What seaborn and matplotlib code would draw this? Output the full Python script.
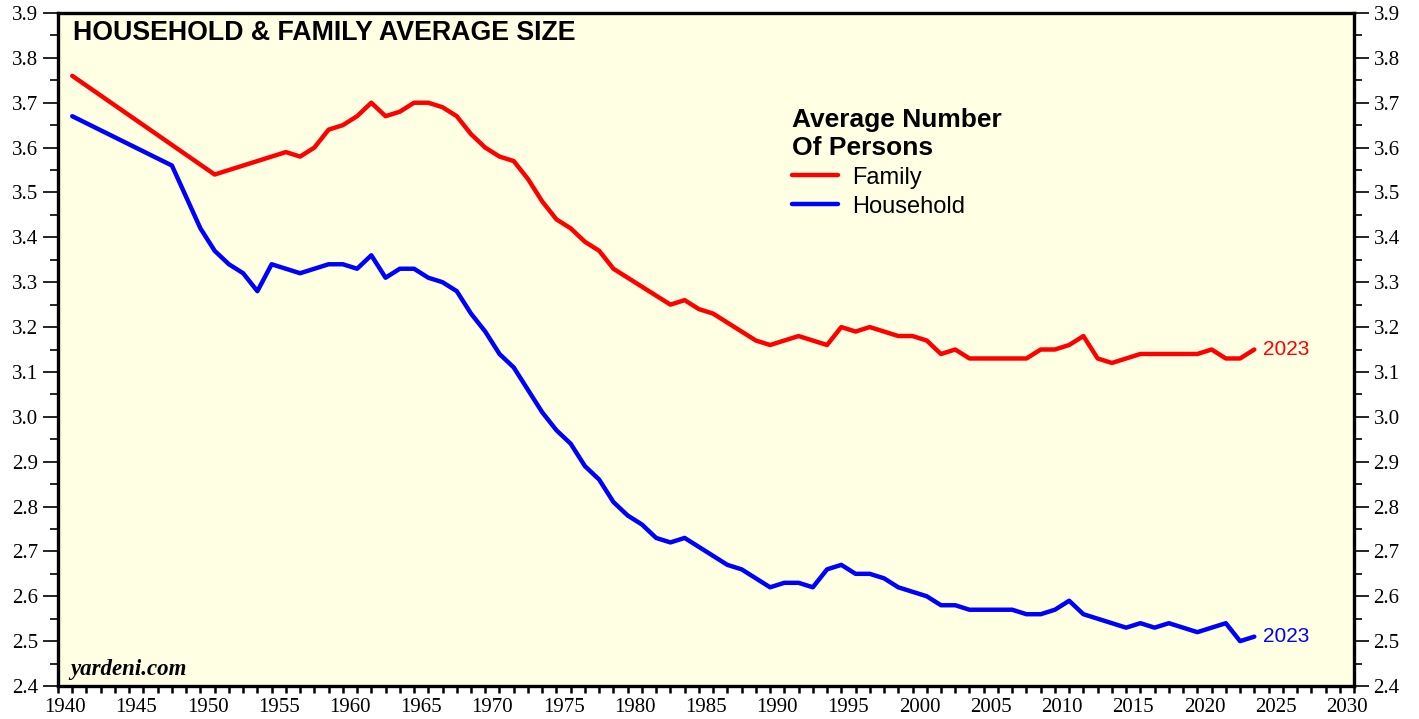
import matplotlib
matplotlib.use("Agg")
import matplotlib.pyplot as plt
import seaborn as sns
import pandas as pd

# average family size (persons); no annual points 1941-49 and 1951-54
family_years = [1940, 1950] + list(range(1955, 2024))
family_size = [3.76, 3.54,
               3.59, 3.58, 3.60, 3.64, 3.65,                      # 1955-59
               3.67, 3.70, 3.67, 3.68, 3.70, 3.70, 3.69, 3.67, 3.63, 3.60,  # 1960s
               3.58, 3.57, 3.53, 3.48, 3.44, 3.42, 3.39, 3.37, 3.33, 3.31,  # 1970s
               3.29, 3.27, 3.25, 3.26, 3.24, 3.23, 3.21, 3.19, 3.17, 3.16,  # 1980s
               3.17, 3.18, 3.17, 3.16, 3.20, 3.19, 3.20, 3.19, 3.18, 3.18,  # 1990s
               3.17, 3.14, 3.15, 3.13, 3.13, 3.13, 3.13, 3.13, 3.15, 3.15,  # 2000s
               3.16, 3.18, 3.13, 3.12, 3.13, 3.14, 3.14, 3.14, 3.14, 3.14,  # 2010s
               3.15, 3.13, 3.13, 3.15]                                      # 2020-23

# average household size (persons)
household_years = [1940] + list(range(1947, 2024))
household_size = [3.67,
                  3.56, 3.49, 3.42,                                          # 1947-49
                  3.37, 3.34, 3.32, 3.28, 3.34, 3.33, 3.32, 3.33, 3.34, 3.34,  # 1950s
                  3.33, 3.36, 3.31, 3.33, 3.33, 3.31, 3.30, 3.28, 3.23, 3.19,  # 1960s
                  3.14, 3.11, 3.06, 3.01, 2.97, 2.94, 2.89, 2.86, 2.81, 2.78,  # 1970s
                  2.76, 2.73, 2.72, 2.73, 2.71, 2.69, 2.67, 2.66, 2.64, 2.62,  # 1980s
                  2.63, 2.63, 2.62, 2.66, 2.67, 2.65, 2.65, 2.64, 2.62, 2.61,  # 1990s
                  2.60, 2.58, 2.58, 2.57, 2.57, 2.57, 2.57, 2.56, 2.56, 2.57,  # 2000s
                  2.59, 2.56, 2.55, 2.54, 2.53, 2.54, 2.53, 2.54, 2.53, 2.52,  # 2010s
                  2.53, 2.54, 2.50, 2.51]                                      # 2020-23

tick_years = list(range(1940, 2031, 5))
y_ticks = [round(2.4 + 0.1 * i, 1) for i in range(16)]

fam = pd.DataFrame({"year": family_years, "size": family_size})
hh = pd.DataFrame({"year": household_years, "size": household_size})

sns.set_style("ticks")
plt.rcParams["font.family"] = ["Liberation Sans", "DejaVu Sans"]
plt.rcParams["text.color"] = "black"
plt.rcParams["xtick.color"] = "black"
plt.rcParams["ytick.color"] = "black"

fig = plt.figure(figsize=(14.19, 7.19), dpi=100)
ax = fig.add_axes([58 / 1419, 1 - 686 / 719, 1296 / 1419, 673 / 719])
ax.set_facecolor("#FFFFE3")

sns.lineplot(data=fam, x="year", y="size", color="#FF0000", lw=3.2, label="Family", ax=ax)
sns.lineplot(data=hh, x="year", y="size", color="#0000FF", lw=3.2, label="Household", ax=ax)

ax.set_xlim(1939, 2030)
ax.set_ylim(2.4, 3.9)

# year labels sit in the middle of each year slot, ticks on year boundaries
ax.set_xticks([y - 0.5 for y in tick_years])
ax.set_xticklabels([str(y) for y in tick_years])
ax.set_xticks(range(1939, 2031), minor=True)
ax.tick_params(axis="x", which="major", length=0, pad=9)
ax.tick_params(axis="x", which="minor", length=5, width=1.8, direction="out")

ax.set_yticks(y_ticks)
ax.set_yticklabels([f"{v:.1f}" for v in y_ticks])
ax.set_yticks([2.45 + 0.1 * i for i in range(15)], minor=True)
ax.yaxis.set_ticks_position("both")
ax.tick_params(axis="y", which="major", length=11, width=1.2, pad=3,
               left=True, right=True, labelleft=True, labelright=True)
ax.tick_params(axis="y", which="minor", length=5.5, width=1.2, left=True, right=True)

for t in ax.xaxis.get_major_ticks():
    t.label1.set_fontfamily("Liberation Serif")
    t.label1.set_fontsize(15)
for t in ax.yaxis.get_major_ticks():
    for lab in (t.label1, t.label2):
        lab.set_fontfamily("Liberation Serif")
        lab.set_fontsize(15)

for side in ["left", "right", "top", "bottom"]:
    ax.spines[side].set_linewidth(2.4)
    ax.spines[side].set_color("black")

ax.set_xlabel("")
ax.set_ylabel("")

ax.text(0.0116, 0.970, "HOUSEHOLD & FAMILY AVERAGE SIZE", transform=ax.transAxes,
        fontsize=19.3, fontweight="bold", ha="left", va="center")
ax.text(0.0093, 0.025, "yardeni.com", transform=ax.transAxes, fontsize=16.5,
        fontweight="bold", fontstyle="italic", fontfamily="Liberation Serif",
        ha="left", va="center")

ax.annotate("2023", (family_years[-1], family_size[-1]), xytext=(6, 0),
            textcoords="offset points", color="#FF0000", fontsize=15, va="center")
ax.annotate("2023", (household_years[-1], household_size[-1]), xytext=(6, 0),
            textcoords="offset points", color="#0000FF", fontsize=15, va="center")

leg = ax.legend(title="Average Number\nOf Persons", loc="upper left",
                bbox_to_anchor=(0.566, 0.859), frameon=False, fontsize=17,
                title_fontproperties={"weight": "bold", "size": 19},
                alignment="left", borderpad=0, handlelength=1.95,
                handletextpad=0.6, labelspacing=0.3, borderaxespad=0)
leg._legend_box.sep = 5

fig.savefig("out.png", dpi=100, facecolor="white")
